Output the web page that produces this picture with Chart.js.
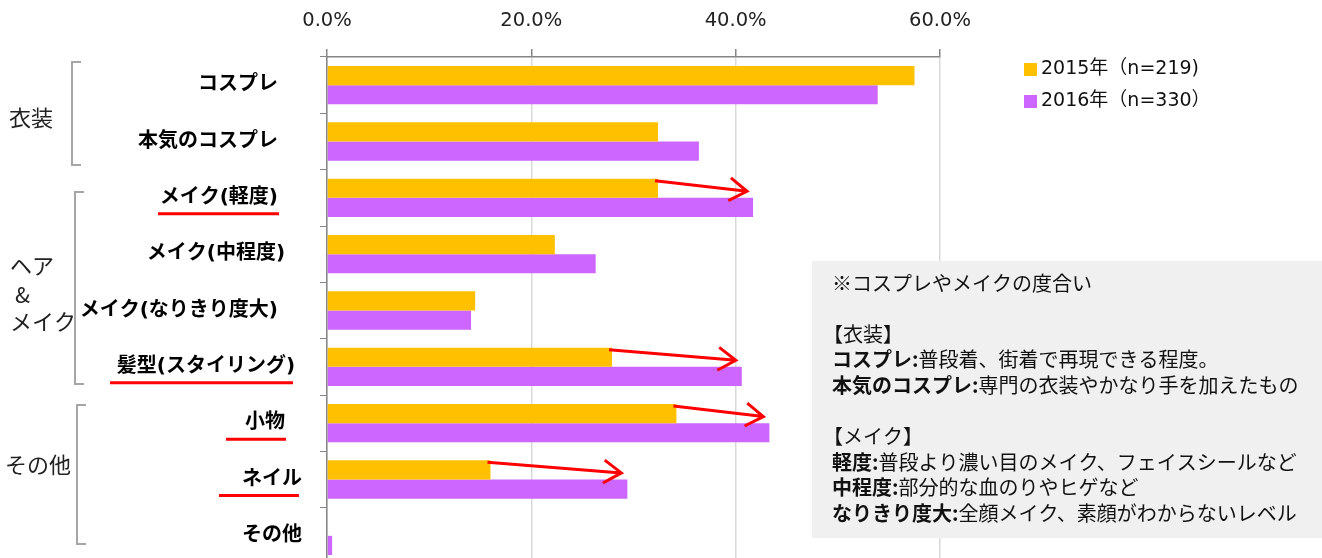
<!DOCTYPE html>
<html>
<head>
<meta charset="utf-8">
<script src="https://cdn.jsdelivr.net/npm/chart.js@4.4.1/dist/chart.umd.min.js"></script>
<style>
  html, body { margin: 0; padding: 0; overflow: hidden; background: #fff; }
</style>
</head>
<body>
<canvas id="chart" width="1322" height="564"></canvas>
<script>
// data (percent)
const categories = ['コスプレ', '本気のコスプレ', 'メイク(軽度)', 'メイク(中程度)', 'メイク(なりきり度大)',
  '髪型(スタイリング)', '小物', 'ネイル', 'その他'];
const values2015 = [57.5, 32.4, 32.4, 22.3, 14.5, 27.9, 34.2, 16.0, 0];
const values2016 = [53.9, 36.4, 41.7, 26.3, 14.1, 40.6, 43.3, 29.4, 0.5];
const seriesNames = ['2015年（n=219)', '2016年（n=330）'];
const xTicks = [0, 20, 40, 60];
const highlighted = [2, 5, 6, 7];   // rows with red underline + arrow

const noteLines = [
  ['', '※コスプレやメイクの度合い'],
  null,
  ['', '【衣装】'],
  ['コスプレ:', '普段着、街着で再現できる程度。'],
  ['本気のコスプレ:', '専門の衣装やかなり手を加えたもの'],
  null,
  ['', '【メイク】'],
  ['軽度:', '普段より濃い目のメイク、フェイスシールなど'],
  ['中程度:', '部分的な血のりやヒゲなど'],
  ['なりきり度大:', '全顔メイク、素顔がわからないレベル']
];

const colors = ['#FFC000', '#CC66FF'];
const latin = "'DejaVu Sans', 'Noto Sans CJK JP', sans-serif";
const jp = "'Noto Sans CJK JP', sans-serif";

// trailing space so the labels sit like the original
const labelTail = ['\u3000\u2009', '\u3000\u2009', '\u3000\u2009', '\u2002 ', '\u3000\u2009', ' ', '\u2002 ', '', ''];

const decor = {
  id: 'decor',
  afterDraw(chart) {
    const ctx = chart.ctx;
    const y = chart.scales.y;
    ctx.save();

    // group brackets
    ctx.strokeStyle = '#A6A6A6';
    ctx.lineWidth = 2;
    [[72, 62, 165], [75, 192, 384], [77, 405, 544]].forEach(([x, t, b]) => {
      ctx.beginPath();
      ctx.moveTo(x + 9, t); ctx.lineTo(x, t); ctx.lineTo(x, b); ctx.lineTo(x + 9, b);
      ctx.stroke();
    });

    // group names
    ctx.fillStyle = '#222';
    ctx.font = '22px ' + jp;
    ctx.textBaseline = 'middle';
    ctx.textAlign = 'left';
    ctx.fillText('衣装', 9, 118);
    ctx.fillText('ヘア', 10, 266);
    ctx.fillText('&', 15, 295);
    ctx.fillText('メイク', 10, 322);
    ctx.fillText('その他', 5, 465);

    // red underlines under labels
    const spans = {2: [158, 279], 5: [110, 293], 6: [226, 286], 7: [219, 299]};
    ctx.strokeStyle = '#FF0000';
    ctx.lineWidth = 3;
    highlighted.forEach(i => {
      const yy = y.getPixelForValue(i) + 16;
      ctx.beginPath();
      ctx.moveTo(spans[i][0], yy); ctx.lineTo(spans[i][1], yy);
      ctx.stroke();
    });

    // red arrows from the 2015 bar end to the 2016 value
    const m0 = chart.getDatasetMeta(0), m1 = chart.getDatasetMeta(1);
    highlighted.forEach(i => {
      const b0 = m0.data[i], b1 = m1.data[i];
      const x0 = b0.x - 3, y0 = b0.y - b0.height / 2 + 2;
      const x1 = b1.x - 6, y1 = b0.y + 3;
      const ang = Math.atan2(y1 - y0, x1 - x0);
      ctx.beginPath();
      ctx.moveTo(x0, y0); ctx.lineTo(x1, y1);
      ctx.moveTo(x1 - 21 * Math.cos(ang - 0.58), y1 - 21 * Math.sin(ang - 0.58));
      ctx.lineTo(x1, y1);
      ctx.lineTo(x1 - 21 * Math.cos(ang + 0.58), y1 - 21 * Math.sin(ang + 0.58));
      ctx.stroke();
    });

    // legend
    ctx.font = '19px ' + latin;
    chart.data.datasets.forEach((ds, k) => {
      const cy = 69 + k * 32;
      ctx.fillStyle = ds.backgroundColor;
      ctx.fillRect(1024, cy - 6, 13, 13);
      ctx.fillStyle = '#111';
      ctx.fillText(ds.label, 1041, cy);
    });

    // note box
    ctx.fillStyle = '#F0F0F0';
    ctx.fillRect(812, 261, 510, 277);
    let ly = 283;
    noteLines.forEach(line => {
      if (line) {
        let x = 832;
        if (line[1].startsWith('【')) x -= 9;
        ctx.fillStyle = '#111';
        if (line[0]) {
          ctx.font = 'bold 20px ' + jp;
          ctx.fillText(line[0], x, ly);
          x += ctx.measureText(line[0]).width;
        }
        ctx.font = '20px ' + jp;
        ctx.fillText(line[1], x, ly);
      }
      ly += 25.6;
    });

    ctx.restore();
  }
};

new Chart(document.getElementById('chart'), {
  type: 'bar',
  data: {
    labels: categories,
    datasets: [
      { label: seriesNames[0], data: values2015, backgroundColor: colors[0] },
      { label: seriesNames[1], data: values2016, backgroundColor: colors[1] }
    ]
  },
  options: {
    indexAxis: 'y',
    responsive: false,
    animation: false,
    layout: { padding: { left: 0, right: 382, top: 0, bottom: 0 } },
    datasets: { bar: { categoryPercentage: 0.68, barPercentage: 1.0 } },
    plugins: {
      legend: { display: false },
      tooltip: { enabled: false }
    },
    scales: {
      x: {
        position: 'top',
        min: 0,
        max: 60,
        afterBuildTicks: (scale) => { scale.ticks = xTicks.map(v => ({ value: v })); },
        afterFit: (scale) => { scale.height = 57; },
        ticks: {
          padding: 16,
          color: '#222',
          font: { family: latin, size: 19.5 },
          callback: (v) => v.toFixed(1) + '%'
        },
        grid: { color: '#D9D9D9', tickColor: '#868686', tickLength: 8, lineWidth: 1.5 },
        border: { color: '#868686', width: 1.5 }
      },
      y: {
        afterFit: (scale) => {
          scale.width = 327;
          scale.paddingTop = 0;
          scale.paddingBottom = 0;
        },
        ticks: {
          padding: 18,
          color: '#000',
          font: { family: latin, size: 20, weight: 'bold' },
          callback: function (v, i) { return categories[i] + labelTail[i]; }
        },
        grid: { drawOnChartArea: false, tickColor: '#868686', tickLength: 7 },
        border: { color: '#868686', width: 1.5 }
      }
    }
  },
  plugins: [decor]
});
</script>
</body>
</html>
